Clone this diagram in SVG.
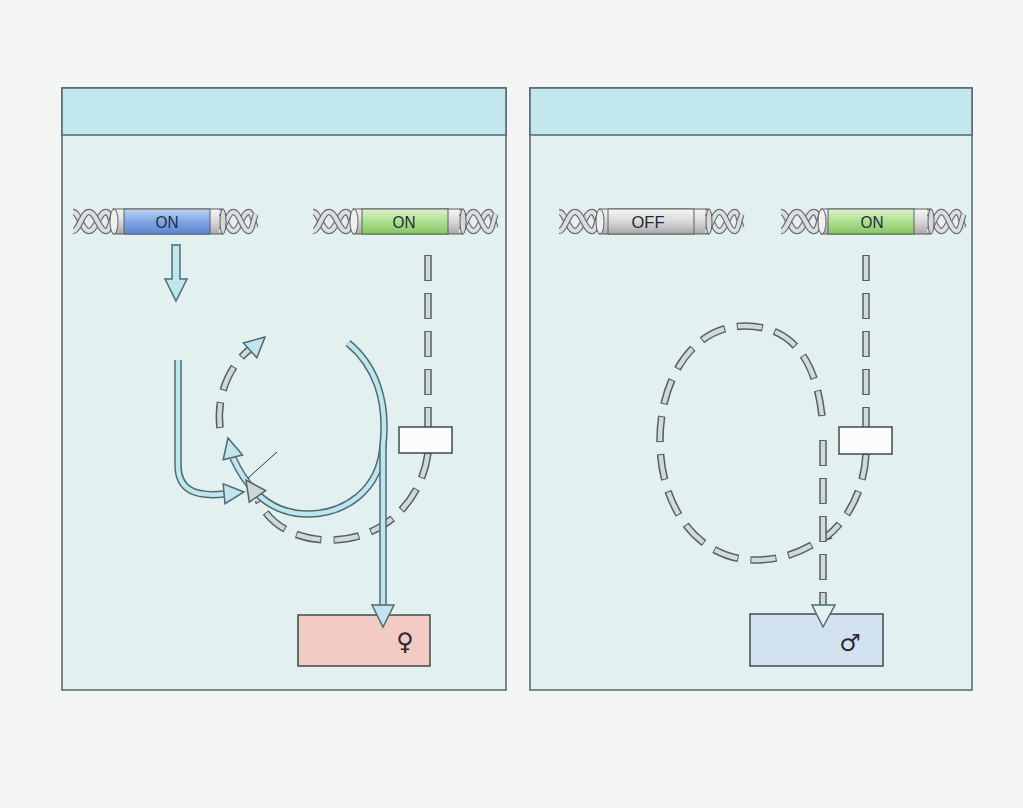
<svg xmlns="http://www.w3.org/2000/svg" xmlns:xlink="http://www.w3.org/1999/xlink" width="1023" height="808" viewBox="0 0 1023 808">
<style>
.panel{fill:#e2f1ef;stroke:#56666a;stroke-width:1.5}
.head{fill:#c2e8ee;stroke:#56666a;stroke-width:1.5}
.sOut{fill:none;stroke:#4f6b72;stroke-width:7.5;stroke-linecap:butt}
.sIn{fill:none;stroke:#c0e5ee;stroke-width:4.5;stroke-linecap:butt}
.dOut{fill:none;stroke:#56605f;stroke-width:7.5;stroke-dasharray:26 12}
.dIn{fill:none;stroke:#d0d9db;stroke-width:4.5;stroke-dasharray:24 14;stroke-dashoffset:-1}
.ahB{fill:#c0e5ee;stroke:#4f6b72;stroke-width:1.5;stroke-linejoin:miter}
.ahG{fill:#cdd6d8;stroke:#56605f;stroke-width:1.5}
.ahW{fill:#e4f1f4;stroke:#4f6b72;stroke-width:1.5}
.strO{fill:none;stroke:#6a6e70;stroke-width:6.5}
.strI{fill:none;stroke:#dcdedf;stroke-width:4}
.cyl{stroke:#5a5e60;stroke-width:1}
.lbl{font-family:"Liberation Sans",Arial,sans-serif;font-size:17px;fill:#1e2a3a;text-anchor:middle}
.sym{font-family:"DejaVu Sans",sans-serif;font-size:24px;fill:#2a2a2a;text-anchor:middle}
.box{stroke:#3f4b4e;stroke-width:1.5}
</style>
<defs>
<linearGradient id="gGray" x1="0" y1="0" x2="0" y2="1"><stop offset="0" stop-color="#f6f6f6"/><stop offset="0.5" stop-color="#d9d9d9"/><stop offset="1" stop-color="#a8a8a8"/></linearGradient>
<linearGradient id="gBlue" x1="0" y1="0" x2="0" y2="1"><stop offset="0" stop-color="#bcd3f3"/><stop offset="0.5" stop-color="#80a7e4"/><stop offset="1" stop-color="#5b86d0"/></linearGradient>
<linearGradient id="gGreen" x1="0" y1="0" x2="0" y2="1"><stop offset="0" stop-color="#def2cc"/><stop offset="0.5" stop-color="#ade08e"/><stop offset="1" stop-color="#86c564"/></linearGradient>
<g id="helix">
<path class="strO" d="M0,4 C6,4 9,23 16,23 C23,23 26,4 33,4 C37,4 38,14 41,20"/>
<path class="strI" d="M0,4 C6,4 9,23 16,23 C23,23 26,4 33,4 C37,4 38,14 41,20"/>
<path class="strO" d="M0,23 C6,23 9,4 16,4 C23,4 26,23 33,23 C37,23 38,12 41,6"/>
<path class="strI" d="M0,23 C6,23 9,4 16,4 C23,4 26,23 33,23 C37,23 38,12 41,6"/>
</g>
<polygon id="ahead" points="0,0 -20,-10 -20,10"/>
</defs>
<rect x="0" y="0" width="1023" height="808" fill="#f3f4f4"/>

<g id="panel-left">
<rect class="panel" x="62" y="88" width="444" height="602"/>
<rect class="head" x="62" y="88" width="444" height="47"/>
</g>
<g id="panel-right">
<rect class="panel" x="530" y="88" width="442" height="602"/>
<rect class="head" x="530" y="88" width="442" height="47"/>
</g>

<g id="gene-left-1" transform="translate(73,208)">
<use xlink:href="#helix"/>
<rect class="cyl" x="40" y="1" width="110" height="25" fill="url(#gGray)"/>
<ellipse class="cyl" cx="41" cy="13.5" rx="4" ry="12.5" fill="#efefef"/>
<rect class="cyl" x="51" y="1" width="86" height="25" fill="url(#gBlue)"/>
<use xlink:href="#helix" transform="translate(146,0) scale(0.9,1)"/>
<ellipse class="cyl" cx="150" cy="13.5" rx="3" ry="12.5" fill="#d8d8d8"/>
<text class="lbl" x="94" y="20" textLength="23" lengthAdjust="spacingAndGlyphs">ON</text>
</g>
<g id="gene-left-2" transform="translate(313,208)">
<use xlink:href="#helix"/>
<rect class="cyl" x="40" y="1" width="110" height="25" fill="url(#gGray)"/>
<ellipse class="cyl" cx="41" cy="13.5" rx="4" ry="12.5" fill="#efefef"/>
<rect class="cyl" x="49" y="1" width="86" height="25" fill="url(#gGreen)"/>
<use xlink:href="#helix" transform="translate(146,0) scale(0.9,1)"/>
<ellipse class="cyl" cx="150" cy="13.5" rx="3" ry="12.5" fill="#d8d8d8"/>
<text class="lbl" x="91" y="20" textLength="23" lengthAdjust="spacingAndGlyphs">ON</text>
</g>
<g id="gene-right-1" transform="translate(559,208)">
<use xlink:href="#helix"/>
<rect class="cyl" x="40" y="1" width="110" height="25" fill="url(#gGray)"/>
<ellipse class="cyl" cx="41" cy="13.5" rx="4" ry="12.5" fill="#efefef"/>
<rect class="cyl" x="49" y="1" width="86" height="25" fill="url(#gGray)"/>
<use xlink:href="#helix" transform="translate(146,0) scale(0.9,1)"/>
<ellipse class="cyl" cx="150" cy="13.5" rx="3" ry="12.5" fill="#d8d8d8"/>
<text class="lbl" x="89" y="20" textLength="33" lengthAdjust="spacingAndGlyphs">OFF</text>
</g>
<g id="gene-right-2" transform="translate(781,208)">
<use xlink:href="#helix"/>
<rect class="cyl" x="40" y="1" width="110" height="25" fill="url(#gGray)"/>
<ellipse class="cyl" cx="41" cy="13.5" rx="4" ry="12.5" fill="#efefef"/>
<rect class="cyl" x="47" y="1" width="86" height="25" fill="url(#gGreen)"/>
<use xlink:href="#helix" transform="translate(146,0) scale(0.9,1)"/>
<ellipse class="cyl" cx="150" cy="13.5" rx="3" ry="12.5" fill="#d8d8d8"/>
<text class="lbl" x="91" y="20" textLength="23" lengthAdjust="spacingAndGlyphs">ON</text>
</g>

<g id="box-female">
<rect class="box" x="298" y="615" width="132" height="51" fill="#f1cbc4"/>
<text class="sym" x="405" y="650">♀</text>
</g>
<g id="box-male">
<rect class="box" x="750" y="614" width="133" height="52" fill="#d3e2f1"/>
<text class="sym" x="850" y="651">♂</text>
</g>

<g id="connectors">
<polygon class="ahB" points="172,245 180,245 180,279 187,279 176,301 165,279 172,279"/>
<path class="dOut" d="M428,255 L428,428"/>
<path class="dIn" d="M428,255 L428,428"/>
<path class="dOut" d="M428,453 C422,500 385,540 330,540 C295,540 270,525 258,500"/>
<path class="dIn" d="M428,453 C422,500 385,540 330,540 C295,540 270,525 258,500"/>
<path class="dOut" d="M220,428 C216,395 230,365 250,349"/>
<path class="dIn" d="M220,428 C216,395 230,365 250,349"/>
<use xlink:href="#ahead" class="ahB" transform="translate(265,337) rotate(-42)"/>
<path class="sOut" d="M178,360 L178,465 C178,490 195,497 224,494"/>
<path class="sIn" d="M178,360 L178,465 C178,490 195,497 224,494"/>
<use xlink:href="#ahead" class="ahB" transform="translate(244,492) rotate(-5)"/>
<path class="sOut" d="M348,343 C375,365 388,400 383,445 C380,490 345,515 305,514 C275,513 250,495 233,458"/>
<path class="sIn" d="M348,343 C375,365 388,400 383,445 C380,490 345,515 305,514 C275,513 250,495 233,458"/>
<use xlink:href="#ahead" class="ahB" transform="translate(228,438) rotate(-104)"/>
<path class="sOut" d="M383,445 L383,606"/>
<path class="sIn" d="M383,445 L383,607"/>
<polygon class="ahB" points="372,605 394,605 383,627"/>
<use xlink:href="#ahead" class="ahG" transform="translate(246,480) rotate(-125)"/>
<line x1="277" y1="452" x2="248" y2="478" stroke="#333" stroke-width="1"/>

<path class="dOut" d="M866,255 L866,428"/>
<path class="dIn" d="M866,255 L866,428"/>
<path class="dOut" d="M822,416 C815,352 786,326 745,326 C692,326 660,380 660,440 C660,510 700,560 755,560 C780,560 798,553 812,545"/>
<path class="dIn" d="M822,416 C815,352 786,326 745,326 C692,326 660,380 660,440 C660,510 700,560 755,560 C780,560 798,553 812,545"/>
<path class="dOut" d="M866,454 C864,490 848,520 826,537"/>
<path class="dIn" d="M866,454 C864,490 848,520 826,537"/>
<polyline points="832,538 822,541 826,531" fill="none" stroke="#56605f" stroke-width="1.5"/>
<path class="dOut" d="M823,440 L823,606"/>
<path class="dIn" d="M823,440 L823,606"/>
<polygon class="ahW" points="812,605 835,605 823,627"/>
</g>

<g id="white-boxes">
<rect class="box" x="399" y="427" width="53" height="26" fill="#fbfcfc"/>
<rect class="box" x="839" y="427" width="53" height="27" fill="#fbfcfc"/>
</g>
</svg>
